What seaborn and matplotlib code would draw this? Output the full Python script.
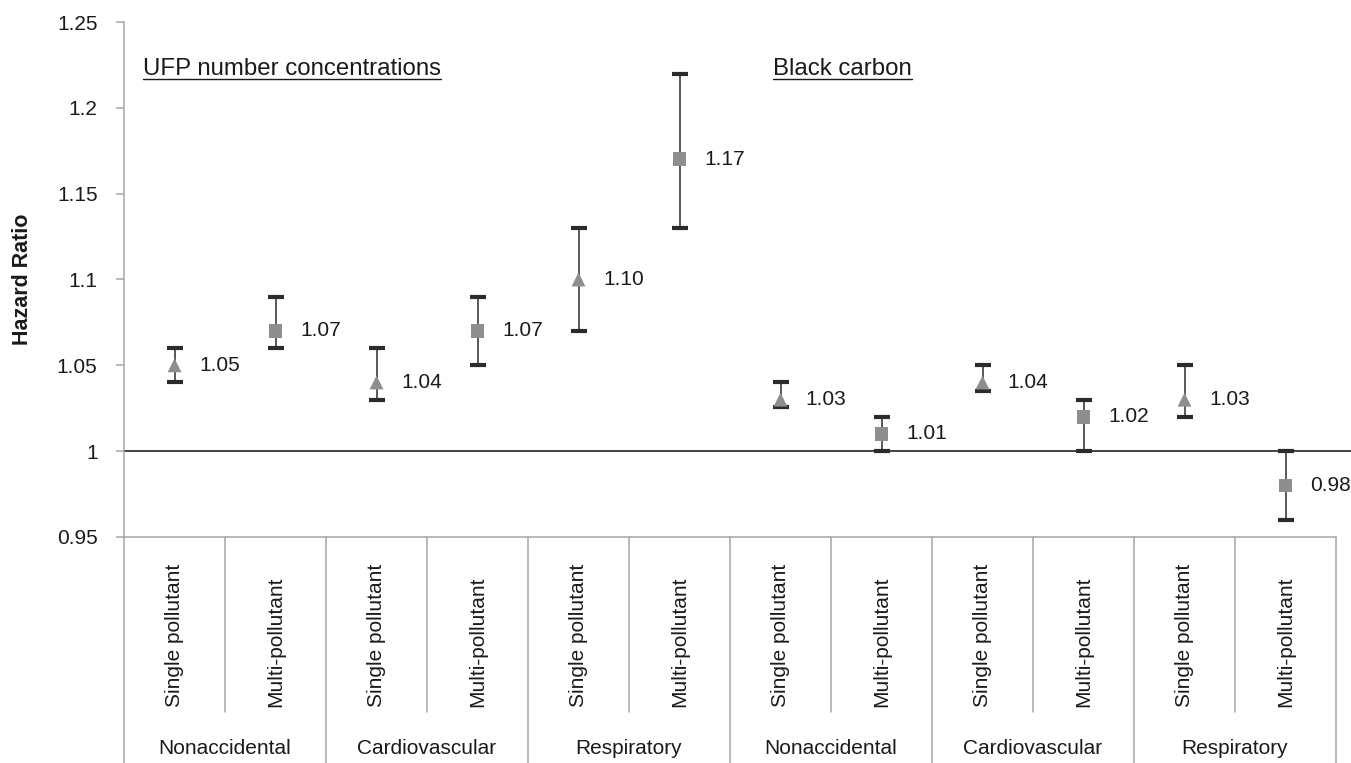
import numpy as np
import pandas as pd
import matplotlib
matplotlib.use("Agg")
import matplotlib.pyplot as plt
import matplotlib.transforms as mtransforms
from matplotlib.ticker import MultipleLocator, FuncFormatter
import seaborn as sns

# ---------------------------
# Data
# ---------------------------
models = ["Single pollutant", "Multi-pollutant"] * 6
outcomes = ["Nonaccidental", "Cardiovascular", "Respiratory"] * 2
hr = [1.05, 1.07, 1.04, 1.07, 1.10, 1.17,
      1.03, 1.01, 1.04, 1.02, 1.03, 0.98]
ci_low = [1.04, 1.06, 1.03, 1.05, 1.07, 1.13,
          1.026, 1.00, 1.035, 1.00, 1.02, 0.96]
ci_high = [1.06, 1.09, 1.06, 1.09, 1.13, 1.22,
           1.04, 1.02, 1.05, 1.03, 1.05, 1.00]
panel_titles = ["UFP number concentrations", "Black carbon"]

df = pd.DataFrame({
    "pos": np.arange(len(hr)),
    "model": models,
    "hr": hr,
    "lo": ci_low,
    "hi": ci_high,
})

sns.set_style("white")
plt.rcParams["font.family"] = ["Liberation Sans", "DejaVu Sans"]

fig = plt.figure(figsize=(13.51, 7.63), dpi=100)
ax = fig.add_axes([124 / 1351, 1 - 537 / 763, (1336 - 124) / 1351, (537 - 22) / 763])

grey_line = "#a6a6a6"
marker_grey = "#8e8e8e"
txt = "#1a1a1a"
fs = 15

# error bars
ax.errorbar(df["pos"], df["hr"],
            yerr=[df["hr"] - df["lo"], df["hi"] - df["hr"]],
            fmt="none", ecolor="#2b2b2b", elinewidth=1.1,
            capsize=5.6, capthick=3.0, zorder=2)
for cap in ax.lines:
    cap.set_color("#111111")

# markers
sns.scatterplot(data=df, x="pos", y="hr", style="model",
                markers={"Single pollutant": "^", "Multi-pollutant": "s"},
                color=marker_grey, edgecolor="none", s=100,
                legend=False, ax=ax, zorder=3)

# value labels
for _, r in df.iterrows():
    ax.annotate(f"{r['hr']:.2f}", (r["pos"], r["hr"]), xytext=(18, 0),
                textcoords="offset points", ha="left", va="center",
                fontsize=fs, color=txt)

# reference line at 1
ax.axhline(1.0, xmin=0, xmax=1.0124, color="#111111", lw=1.1,
           clip_on=False, zorder=1)

ax.set_xlim(-0.5, len(hr) - 0.5)
ax.set_ylim(0.95, 1.25)
ax.yaxis.set_major_locator(MultipleLocator(0.05))
ax.yaxis.set_major_formatter(FuncFormatter(lambda v, p: f"{round(v, 2):g}"))
ax.set_xticks([])
ax.set_xlabel("")
ax.set_ylabel("Hazard Ratio", fontsize=15.5, fontweight="bold", color=txt)
ax.yaxis.set_label_coords(-0.075, 0.5)
ax.tick_params(axis="y", which="major", left=True, length=6, width=1.1,
               color=grey_line, pad=13, labelsize=fs, labelcolor=txt)

for s in ["top", "right"]:
    ax.spines[s].set_visible(False)
for s in ["left", "bottom"]:
    ax.spines[s].set_color(grey_line)
    ax.spines[s].set_linewidth(1.1)

# category table below the axis
trans = mtransforms.blended_transform_factory(ax.transData, ax.transAxes)
inner_bottom = -(712 - 537) / 515
outer_bottom = -(763 - 537) / 515
for k in range(len(hr) + 1):
    xb = k - 0.5
    yb = outer_bottom if k % 2 == 0 else inner_bottom
    ax.plot([xb, xb], [0, yb], transform=trans, color=grey_line, lw=1.1,
            clip_on=False)

for i, m in enumerate(models):
    ax.text(i, -(707 - 537) / 515, m, transform=trans, rotation=90,
            ha="center", va="bottom", fontsize=fs, color=txt)
for g, o in enumerate(outcomes):
    ax.text(2 * g + 0.5, -(748 - 537) / 515, o, transform=trans,
            ha="center", va="center", fontsize=fs, color=txt)

# underlined panel titles
titles = []
for t, xt in zip(panel_titles, [-0.31, 5.93]):
    titles.append(ax.text(xt, 1.2225, t, ha="left", va="center",
                          fontsize=17.3, color=txt))
fig.canvas.draw()
inv = fig.transFigure.inverted()
for t in titles:
    bb = t.get_window_extent()
    (x0, y0), (x1, _) = inv.transform([[bb.x0, bb.y0 + 1], [bb.x1, bb.y1]])
    fig.add_artist(plt.Line2D([x0, x1], [y0, y0], color=txt, lw=1.0,
                              transform=fig.transFigure))

fig.savefig("out.png", dpi=100, facecolor="white")
